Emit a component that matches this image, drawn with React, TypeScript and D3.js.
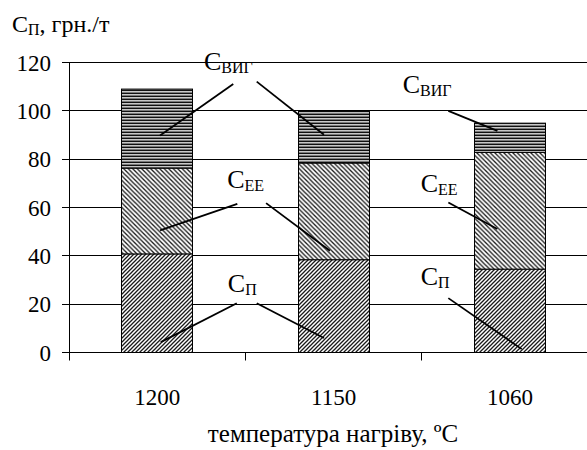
import React from "react";
import * as d3 from "d3";

const categories = ["1200", "1150", "1060"];
const seriesNames = ["П", "ЕЕ", "ВИГ"];
const cP = [40.8, 38.4, 34.5];
const cEE = [35.5, 40.0, 48.3];
const cVYG = [32.7, 21.3, 12.1];
const yTicks = [0, 20, 40, 60, 80, 100, 120];

// annotation labels: series index, category position, value
const labelSeries = [2, 2, 1, 1, 0, 0];
const labelCatPos = [0.765, 1.891, 0.897, 1.993, 0.9, 1.993];
const labelValues = [116.7, 107.3, 68.0, 66.6, 25.2, 28.0];
// leader lines in category-position / value units
const leaderX1 = [0.931, 1.064, 2.15, 0.954, 1.117, 2.15, 0.951, 1.064, 2.15];
const leaderV1 = [111.1, 112.1, 100.0, 61.5, 61.8, 62.1, 20.4, 20.4, 22.5];
const leaderX2 = [0.516, 1.445, 2.428, 0.516, 1.479, 2.428, 0.52, 1.445, 2.566];
const leaderV2 = [89.8, 90.1, 91.7, 50.5, 42.1, 51.1, 4.3, 6.0, 1.4];

const W = 587;
const H = 450;
const left = 69;
const right = 598.3;

export default function App() {
  const x = d3
    .scaleBand<string>()
    .domain(categories)
    .range([left, right])
    .paddingInner(0.6)
    .paddingOuter(0.3);
  const xPos = d3.scaleLinear().domain([0, 3]).range([left, right]);
  const y = d3.scaleLinear().domain([0, 120]).range([352.5, 62.5]);

  const rows = categories.map((c, i) => ({ cat: c, s0: cP[i], s1: cEE[i], s2: cVYG[i] }));
  const stack = d3.stack<any>().keys(["s0", "s1", "s2"])(rows);
  const fills = ["url(#patUp)", "url(#patDown)", "url(#patHor)"];
  const crisp = (v: number) => Math.round(v - 0.5) + 0.5;
  const css = `svg text, svg tspan { font-family: "Liberation Serif", "Times New Roman", Tinos, serif; }`;

  return (
    <div>
      <style>{css}</style>
      <svg
        width={W}
        height={H}
        fontFamily="Liberation Serif"
        style={{ position: "absolute", left: 0, top: 0, background: "#fff" }}
      >
        <defs>
          <pattern id="patUp" patternUnits="userSpaceOnUse" width={4} height={4}>
            <rect width={4} height={4} fill="#fff" />
            <path d="M-1,1 L1,-1 M0,4 L4,0 M3,5 L5,3" stroke="#1a1a1a" strokeWidth={1.3} />
          </pattern>
          <pattern id="patDown" patternUnits="userSpaceOnUse" width={4.5} height={4.5}>
            <rect width={4.5} height={4.5} fill="#fff" />
            <path d="M-1,3.5 L1,5.5 M0,0 L4.5,4.5 M3.5,-1 L5.5,1" stroke="#1a1a1a" strokeWidth={1.3} />
          </pattern>
          <pattern id="patHor" patternUnits="userSpaceOnUse" width={4} height={3}>
            <rect y={0} width={4} height={1} fill="#111" />
            <rect y={1} width={4} height={1} fill="#c8c8c8" />
            <rect y={2} width={4} height={1} fill="#7a7a7a" />
          </pattern>
        </defs>

        {yTicks.slice(1).map((t) => (
          <line key={"g" + t} x1={left} x2={right} y1={crisp(y(t))} y2={crisp(y(t))} stroke="#000" strokeWidth={1} />
        ))}

        {stack.map((layer, si) =>
          layer.map((d: any, i: number) => (
            <rect
              key={si + "-" + i}
              x={crisp(x(categories[i])!)}
              width={Math.round(x.bandwidth())}
              y={y(d[1])}
              height={y(d[0]) - y(d[1])}
              fill={fills[si]}
              stroke="#000"
              strokeWidth={1}
            />
          ))
        )}

        <line x1={crisp(left)} x2={crisp(left)} y1={y(120)} y2={y(0)} stroke="#000" />
        <line x1={left} x2={right} y1={crisp(y(0))} y2={crisp(y(0))} stroke="#000" />
        {yTicks.map((t) => (
          <line key={"yt" + t} x1={left - 7} x2={left} y1={crisp(y(t))} y2={crisp(y(t))} stroke="#000" />
        ))}
        {yTicks.map((t) => (
          <text key={"yl" + t} x={51} y={y(t) + 8} textAnchor="end" fontSize={23} fill="#000">
            {String(t)}
          </text>
        ))}
        {[0, 1, 2, 3].map((k) => (
          <line key={"xt" + k} x1={crisp(xPos(k))} x2={crisp(xPos(k))} y1={y(0)} y2={y(0) + 8} stroke="#000" />
        ))}
        {categories.map((c) => (
          <text key={"xl" + c} x={x(c)! + x.bandwidth() / 2} y={405} textAnchor="middle" fontSize={23} fill="#000">
            {c}
          </text>
        ))}
        <text x={333} y={442} textAnchor="middle" fontSize={25} fill="#000">
          температура нагріву, ºC
        </text>

        <text x={12} y={31.5} fontSize={24} fill="#000">
          C<tspan fontSize={16} dy={3}>П</tspan>
          <tspan dy={-3}>, грн./т</tspan>
        </text>

        {leaderX1.map((_, i) => (
          <line
            key={"ld" + i}
            x1={xPos(leaderX1[i])}
            y1={y(leaderV1[i])}
            x2={xPos(leaderX2[i])}
            y2={y(leaderV2[i])}
            stroke="#000"
            strokeWidth={1.8}
          />
        ))}

        {labelSeries.map((s, i) => (
          <text key={"lb" + i} x={xPos(labelCatPos[i])} y={y(labelValues[i])} fontSize={26} fill="#000">
            C<tspan fontSize={16} dy={3}>{seriesNames[s]}</tspan>
          </text>
        ))}
      </svg>
    </div>
  );
}
